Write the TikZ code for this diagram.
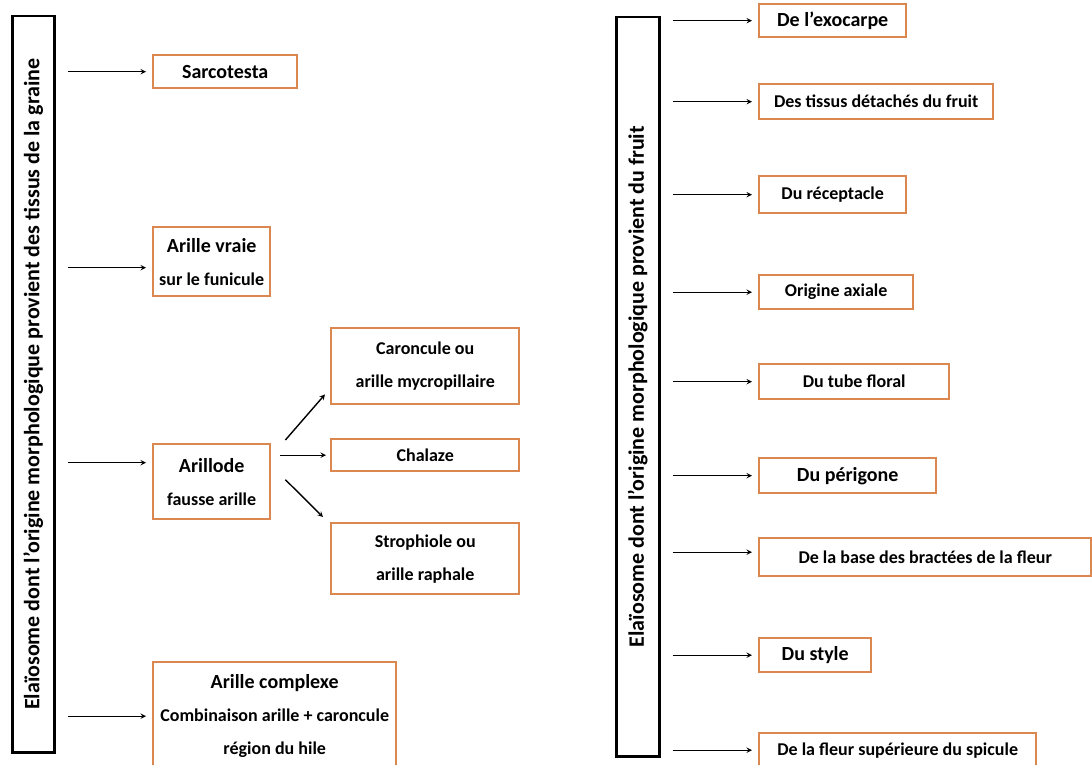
\documentclass[tikz,border=0pt]{standalone}
\usepackage{fontspec}
\setmainfont{Carlito}
\usetikzlibrary{positioning}
\definecolor{orangeB}{RGB}{218,135,80}
\newcommand{\grandtxt}{\fontsize{20}{33}\selectfont}

\begin{document}
\begin{tikzpicture}[x=1pt, y=-1pt, >=stealth,
		boite/.style={draw=orangeB, line width=2.4pt, inner sep=0pt, anchor=north west, align=center, font=\fontsize{18}{33}\selectfont\bfseries},
		cadre/.style={draw, line width=2.5pt, inner sep=0pt, anchor=north west},
		fl/.style={->, line width=1.4pt, shorten <=12pt, shorten >=6pt}]
		\useasboundingbox (0,0) rectangle (1092,765);
		\clip (0,0) rectangle (1092,765);
		%graine
		\node (graine) [cadre, minimum width=42pt, minimum height=736pt] at (11,15) {};
		\node (graineT) [rotate=90, font=\fontsize{22}{26}\selectfont\bfseries] at (graine.center) {Elaïosome dont l’origine morphologique provient des tissus de la graine};
		\node (sarco) [boite, minimum width=144pt, minimum height=33pt, font=\grandtxt\bfseries] at (152,54) {Sarcotesta};
		\node (vraie) [boite, minimum width=117pt, minimum height=69pt] at (152,226) {{\grandtxt Arille vraie}\\sur le funicule};
		\node (arillode) [boite, minimum width=117pt, minimum height=75pt] at (152,443) {{\grandtxt Arillode}\\fausse arille};
		\node (caron) [boite, minimum width=188pt, minimum height=76pt] at (330,327) {Caroncule ou\\arille mycropillaire};
		\node (chalaze) [boite, minimum width=188pt, minimum height=32pt] at (330,438) {Chalaze};
		\node (stroph) [boite, minimum width=188pt, minimum height=71pt] at (330,522) {Strophiole ou\\arille raphale};
		\node (complexe) [boite, minimum width=243pt, minimum height=108pt] at (152,661) {{\grandtxt Arille complexe}\\Combinaison arille + caroncule\\région du hile};
		\coordinate (vraieIn) at ([yshift=-6pt]vraie.west);
		\coordinate (arillodeIn) at ([yshift=19pt]arillode.west);
		\draw[fl] (graine.east |- sarco.west) -- (sarco.west);
		\draw[fl] (graine.east |- vraieIn) -- (vraieIn);
		\draw[fl] (graine.east |- arillodeIn) -- (arillodeIn);
		\draw[fl] (graine.east |- complexe.west) -- (complexe.west);
		\draw[->, line width=1.4pt] ([shift={(14,-3)}]arillode.north east) -- ([shift={(-5,-11)}]caron.south west);
		\draw[->, line width=1.4pt, shorten <=9pt, shorten >=4pt] (arillode.east |- chalaze.west) -- (chalaze.west);
		\draw[->, line width=1.4pt] ([shift={(14,-2)}]arillode.east) -- ([shift={(-7,-5)}]stroph.north west);
		%fruit
		\node (fruit) [cadre, minimum width=43pt, minimum height=739pt] at (615,16) {};
		\node (fruitT) [rotate=90, font=\fontsize{22}{26}\selectfont\bfseries] at (fruit.center) {Elaïosome dont l’origine morphologique provient du fruit};
		\node (exo) [boite, minimum width=147pt, minimum height=33pt, font=\grandtxt\bfseries] at (758,3) {De l’exocarpe};
		\node (tissus) [boite, minimum width=234pt, minimum height=35pt] at (758,83) {Des tissus détachés du fruit};
		\node (recept) [boite, minimum width=147pt, minimum height=37pt] at (758,175) {Du réceptacle};
		\node (axiale) [boite, minimum width=154pt, minimum height=34pt] at (758,274) {Origine axiale};
		\node (tube) [boite, minimum width=190pt, minimum height=35pt] at (758,363) {Du tube floral};
		\node (perig) [boite, minimum width=177pt, minimum height=35pt, font=\grandtxt\bfseries] at (758,457) {Du périgone};
		\node (base) [boite, minimum width=332pt, minimum height=38pt] at (758,537) {De la base des bractées de la fleur};
		\node (style) [boite, minimum width=112pt, minimum height=34pt, font=\grandtxt\bfseries] at (758,637) {Du style};
		\node (fleur) [boite, minimum width=277pt, minimum height=34pt] at (758,732) {De la fleur supérieure du spicule};
		\coordinate (baseIn) at ([yshift=5pt]base.west);
		\draw[fl] (fruit.east |- exo.west) -- (exo.west);
		\draw[fl] (fruit.east |- tissus.west) -- (tissus.west);
		\draw[fl] (fruit.east |- recept.west) -- (recept.west);
		\draw[fl] (fruit.east |- axiale.west) -- (axiale.west);
		\draw[fl] (fruit.east |- tube.west) -- (tube.west);
		\draw[fl] (fruit.east |- perig.west) -- (perig.west);
		\draw[fl] (fruit.east |- baseIn) -- (baseIn);
		\draw[fl] (fruit.east |- style.west) -- (style.west);
		\draw[fl] (fruit.east |- fleur.west) -- (fleur.west);
	\end{tikzpicture}
\end{document}
